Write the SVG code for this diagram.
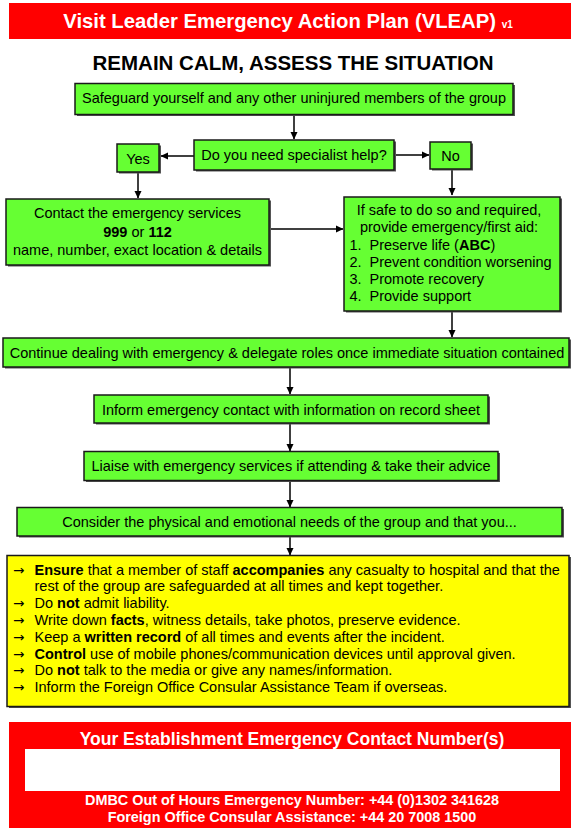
<svg xmlns="http://www.w3.org/2000/svg" width="571" height="828" viewBox="0 0 571 828">
<style>
text{font-family:"Liberation Sans",Arial,sans-serif;fill:#000}
.b{font-size:14.5px}
.c{text-anchor:middle}
.bold{font-weight:bold}
.w{fill:#fff;font-weight:bold}
.ar{font-family:"DejaVu Sans",sans-serif;font-size:13.5px}
.box{fill:#66ff33;stroke:#1a1a1a;stroke-width:1.5}
.yb{fill:#ffff00;stroke:#1a1a1a;stroke-width:1.5}
.sh{fill:#555}
.con{stroke:#000;stroke-width:1.5;fill:none;marker-end:url(#ah)}
</style>
<defs>
<marker id="ah" markerWidth="8" markerHeight="8" refX="7" refY="4" orient="auto" markerUnits="userSpaceOnUse">
<path d="M0,0.5 L7.5,4 L0,7.5 Z" fill="#000"/>
</marker>
</defs>
<rect width="571" height="828" fill="#fff"/>
<g id="header">
<rect x="9" y="3" width="562" height="36" fill="#ff0000"/>
<text x="288" y="28" class="w c" font-size="20.3">Visit Leader Emergency Action Plan (VLEAP) <tspan font-size="10">v1</tspan></text>
</g>
<g id="subtitle">
<text x="293" y="70" class="c bold" font-size="20.5">REMAIN CALM, ASSESS THE SITUATION</text>
</g>
<g id="connectors">
<line x1="294" y1="115" x2="294" y2="139" class="con"/>
<line x1="194" y1="156" x2="161" y2="156" class="con"/>
<line x1="394" y1="155" x2="429" y2="155" class="con"/>
<line x1="138" y1="172" x2="138" y2="198" class="con"/>
<line x1="452" y1="170" x2="452" y2="195" class="con"/>
<line x1="270" y1="229" x2="343" y2="229" class="con"/>
<line x1="452" y1="312" x2="452" y2="337" class="con"/>
<line x1="290" y1="367" x2="290" y2="394" class="con"/>
<line x1="290" y1="424" x2="290" y2="451" class="con"/>
<line x1="290" y1="481" x2="290" y2="507" class="con"/>
<line x1="290" y1="537" x2="290" y2="555" class="con"/>
</g>
<g id="safeguard">
<rect x="77" y="85" width="438" height="31" class="sh"/>
<rect x="75" y="83.5" width="438" height="31" class="box"/>
<text x="294" y="103" class="b c">Safeguard yourself and any other uninjured members of the group</text>
</g>
<g id="question">
<rect x="196" y="141.5" width="200" height="30" class="sh"/>
<rect x="194" y="140" width="200" height="30" class="box"/>
<text x="294" y="159.5" class="b c">Do you need specialist help?</text>
</g>
<g id="yes">
<rect x="119" y="145.5" width="42" height="28" class="sh"/>
<rect x="117" y="144" width="42" height="28" class="box"/>
<text x="138" y="163.5" class="b c">Yes</text>
</g>
<g id="no">
<rect x="432" y="143.5" width="41" height="27" class="sh"/>
<rect x="430" y="142" width="41" height="27" class="box"/>
<text x="450.5" y="161" class="b c">No</text>
</g>
<g id="contact">
<rect x="8" y="200.5" width="263" height="66" class="sh"/>
<rect x="6" y="199" width="263" height="66" class="box"/>
<text x="137.5" y="218" class="b c">Contact the emergency services</text>
<text x="137.5" y="237" class="b c"><tspan font-weight="bold">999</tspan> or <tspan font-weight="bold">112</tspan></text>
<text x="137.5" y="254.5" class="b c">name, number, exact location &amp; details</text>
</g>
<g id="firstaid">
<rect x="346" y="198.5" width="216" height="114" class="sh"/>
<rect x="344" y="197" width="216" height="114" class="box"/>
<text x="449" y="215" class="b c">If safe to do so and required,</text>
<text x="449" y="231.5" class="b c">provide emergency/first aid:</text>
<text x="349.5" y="250" class="b">1.</text><text x="369.5" y="250" class="b">Preserve life (<tspan font-weight="bold">ABC</tspan>)</text>
<text x="349.5" y="267" class="b">2.</text><text x="369.5" y="267" class="b">Prevent condition worsening</text>
<text x="349.5" y="284" class="b">3.</text><text x="369.5" y="284" class="b">Promote recovery</text>
<text x="349.5" y="300.5" class="b">4.</text><text x="369.5" y="300.5" class="b">Provide support</text>
</g>
<g id="continue">
<rect x="5" y="339.5" width="566" height="29" class="sh"/>
<rect x="3" y="338" width="566" height="29" class="box"/>
<text x="287" y="358" class="b c">Continue dealing with emergency &amp; delegate roles once immediate situation contained</text>
</g>
<g id="inform">
<rect x="96" y="396.5" width="394" height="28" class="sh"/>
<rect x="94" y="395" width="394" height="28" class="box"/>
<text x="291" y="414.5" class="b c">Inform emergency contact with information on record sheet</text>
</g>
<g id="liaise">
<rect x="86" y="453" width="414" height="29" class="sh"/>
<rect x="84" y="451.5" width="414" height="29" class="box"/>
<text x="291" y="471" class="b c">Liaise with emergency services if attending &amp; take their advice</text>
</g>
<g id="consider">
<rect x="19" y="509" width="545" height="28.5" class="sh"/>
<rect x="17" y="507.5" width="545" height="28.5" class="box"/>
<text x="289.5" y="527" class="b c">Consider the physical and emotional needs of the group and that you...</text>
</g>
<g id="actions">
<rect x="9" y="557" width="562" height="151" class="sh"/>
<rect x="7" y="555.5" width="562" height="151" class="yb"/>
<g class="b">
<text x="13" y="574.5" class="ar">→</text><text x="34.5" y="574.5"><tspan font-weight="bold">Ensure</tspan> that a member of staff <tspan font-weight="bold">accompanies</tspan> any casualty to hospital and that the</text>
<text x="34.5" y="591">rest of the group are safeguarded at all times and kept together.</text>
<text x="13" y="607.5" class="ar">→</text><text x="34.5" y="607.5">Do <tspan font-weight="bold">not</tspan> admit liability.</text>
<text x="13" y="624.5" class="ar">→</text><text x="34.5" y="624.5">Write down <tspan font-weight="bold">facts</tspan>, witness details, take photos, preserve evidence.</text>
<text x="13" y="641.5" class="ar">→</text><text x="34.5" y="641.5">Keep a <tspan font-weight="bold">written record</tspan> of all times and events after the incident.</text>
<text x="13" y="658.5" class="ar">→</text><text x="34.5" y="658.5"><tspan font-weight="bold">Control</tspan> use of mobile phones/communication devices until approval given.</text>
<text x="13" y="675" class="ar">→</text><text x="34.5" y="675">Do <tspan font-weight="bold">not</tspan> talk to the media or give any names/information.</text>
<text x="13" y="691.5" class="ar">→</text><text x="34.5" y="691.5">Inform the Foreign Office Consular Assistance Team if overseas.</text>
</g>
</g>
<g id="contacts">
<rect x="9" y="722" width="562" height="106" fill="#ff0000"/>
<text x="292" y="744.5" class="w c" font-size="17.5">Your Establishment Emergency Contact Number(s)</text>
<rect x="25" y="749" width="535" height="42" fill="#fff"/>
<text x="292" y="805" class="w c" font-size="14.4">DMBC Out of Hours Emergency Number: +44 (0)1302 341628</text>
<text x="292" y="821.5" class="w c" font-size="14.4">Foreign Office Consular Assistance: +44 20 7008 1500</text>
</g>
</svg>
